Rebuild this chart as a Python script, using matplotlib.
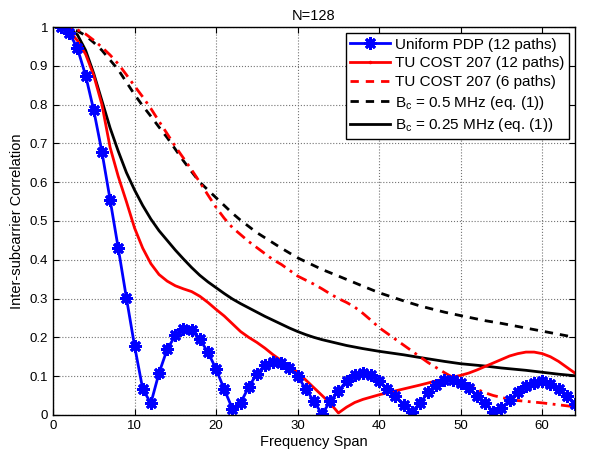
import matplotlib
matplotlib.use('Agg')
import matplotlib.pyplot as plt
from matplotlib.lines import Line2D

plt.rcParams['font.family'] = ['Liberation Sans', 'DejaVu Sans']
plt.rcParams['mathtext.fontset'] = 'custom'
plt.rcParams['mathtext.rm'] = 'Liberation Sans'

# Uniform PDP (12 paths), one point per frequency span 1..64
uni_x = list(range(1, 65))
uni_y = [1.0, 0.985, 0.945, 0.875, 0.785, 0.678, 0.555, 0.43, 0.302, 0.178,
         0.067, 0.03, 0.108, 0.169, 0.205, 0.222, 0.218, 0.195, 0.162, 0.118,
         0.066, 0.016, 0.031, 0.072, 0.106, 0.128, 0.136, 0.135, 0.122, 0.1,
         0.067, 0.035, 0.002, 0.035, 0.062, 0.087, 0.104, 0.108, 0.102, 0.087,
         0.068, 0.048, 0.025, 0.008, 0.03, 0.058, 0.078, 0.09, 0.09, 0.083,
         0.07, 0.048, 0.03, 0.008, 0.017, 0.038, 0.06, 0.075, 0.083, 0.087,
         0.08, 0.067, 0.048, 0.027]

# TU COST 207 (12 paths)
tu12_x = [1, 2, 3, 4, 5, 6, 7, 8, 9, 10, 11, 12, 13, 14, 15, 16, 17, 18, 19, 20,
          21, 22, 23, 24, 25, 26, 27, 28, 29, 30, 31, 32, 33, 34, 35, 36, 37, 38,
          39, 40, 42, 45, 48, 50, 51, 52, 53, 54, 55, 56, 57, 58, 59, 60, 61, 62,
          63, 64]
tu12_y = [1.0, 0.99, 0.965, 0.93, 0.875, 0.8, 0.69, 0.615, 0.55, 0.482, 0.43,
          0.39, 0.362, 0.345, 0.333, 0.325, 0.318, 0.306, 0.29, 0.272, 0.255,
          0.235, 0.215, 0.2, 0.187, 0.172, 0.155, 0.14, 0.125, 0.11, 0.09, 0.07,
          0.05, 0.03, 0.005, 0.02, 0.032, 0.04, 0.046, 0.052, 0.062, 0.077,
          0.093, 0.102, 0.108, 0.116, 0.125, 0.134, 0.143, 0.152, 0.158, 0.162,
          0.162, 0.158, 0.15, 0.138, 0.123, 0.108]

# TU COST 207 (6 paths)
tu6_x = [1, 2, 3, 4, 5, 6, 7, 8, 9, 10, 11, 12, 13, 14, 15, 16, 17, 18, 19, 20,
         21, 22, 24, 27, 28, 30, 32, 33, 34, 35, 36, 37, 38, 39, 40, 41, 42, 43,
         44, 45, 46, 47, 48, 49, 50, 51, 52, 53, 54, 55, 56, 57, 58, 60, 62, 64]
tu6_y = [1.0, 0.998, 0.993, 0.982, 0.966, 0.948, 0.928, 0.905, 0.877, 0.848,
         0.82, 0.79, 0.757, 0.725, 0.692, 0.662, 0.632, 0.6, 0.567, 0.535,
         0.507, 0.483, 0.447, 0.4, 0.388, 0.358, 0.337, 0.325, 0.312, 0.3, 0.29,
         0.278, 0.262, 0.244, 0.225, 0.21, 0.195, 0.18, 0.165, 0.15, 0.135,
         0.122, 0.109, 0.097, 0.087, 0.076, 0.066, 0.057, 0.05, 0.045, 0.04,
         0.037, 0.035, 0.031, 0.026, 0.021]

# Bc = 0.5 MHz (eq. (1))
bc05_x = [1, 2, 3, 4, 5, 6, 7, 8, 9, 10, 11, 12, 13, 14, 15, 16, 17, 18, 20, 22,
          23, 25, 28, 30, 33, 35, 38, 40, 43, 45, 48, 50, 53, 55, 58, 60, 62, 64]
bc05_y = [1.0, 0.997, 0.99, 0.978, 0.96, 0.94, 0.915, 0.89, 0.858, 0.826,
          0.797, 0.77, 0.742, 0.715, 0.685, 0.655, 0.627, 0.6, 0.56, 0.52, 0.502,
          0.47, 0.43, 0.405, 0.375, 0.358, 0.332, 0.315, 0.294, 0.281, 0.265,
          0.256, 0.243, 0.236, 0.224, 0.216, 0.208, 0.2]

# Bc = 0.25 MHz (eq. (1))
bc025_x = [1, 2, 3, 4, 5, 6, 7, 8, 9, 10, 11, 12, 13, 14, 15, 16, 17, 18, 19,
           20, 21, 22, 23, 24, 25, 26, 27, 28, 29, 30, 31, 32, 33, 34, 35, 36,
           37, 38, 40, 43, 45, 48, 50, 53, 55, 58, 60, 62, 64]
bc025_y = [1.0, 0.995, 0.98, 0.94, 0.88, 0.81, 0.74, 0.68, 0.625, 0.58, 0.54,
           0.505, 0.475, 0.45, 0.425, 0.402, 0.38, 0.36, 0.343, 0.328, 0.313,
           0.299, 0.287, 0.276, 0.265, 0.254, 0.244, 0.234, 0.224, 0.215,
           0.207, 0.2, 0.194, 0.189, 0.184, 0.179, 0.175, 0.171, 0.164, 0.155,
           0.148, 0.138, 0.132, 0.126, 0.121, 0.115, 0.11, 0.105, 0.101]

labels = ['Uniform PDP (12 paths)', 'TU COST 207 (12 paths)',
          'TU COST 207 (6 paths)', r'B$_\mathregular{c}$ = 0.5 MHz (eq. (1))',
          r'B$_\mathregular{c}$ = 0.25 MHz (eq. (1))']

fig = plt.figure(figsize=(5.89, 4.51), dpi=100)
ax = fig.add_axes([0.09, 0.08, 0.886, 0.86])

asterisk = (8, 2, 0)
ax.plot(bc05_x, bc05_y, color='k', lw=2, ls=(0, (3, 2.5)))
ax.plot(bc025_x, bc025_y, color='k', lw=2)
ax.plot(tu6_x, tu6_y, color='#ff0000', lw=2, ls=(0, (4, 2, 1, 2)))
ax.plot(tu12_x, tu12_y, color='#ff0000', lw=2)
ax.plot(uni_x, uni_y, color='#0000ff', lw=2, marker=asterisk, ms=9, mew=2)

ax.set_xlim(0, 64)
ax.set_ylim(0, 1)
ax.set_xticks(range(0, 61, 10))
ax.set_yticks([i / 10 for i in range(11)])
ax.set_yticklabels(['0', '0.1', '0.2', '0.3', '0.4', '0.5', '0.6', '0.7', '0.8', '0.9', '1'])
ax.tick_params(direction='in', top=True, right=True, labelsize=9.5, length=4)
ax.grid(True, ls=':', color='0.45', lw=0.8)
for s in ax.spines.values():
    s.set_linewidth(1)

ax.set_xlabel('Frequency Span', fontsize=10.5, labelpad=2)
ax.set_ylabel('Inter-subcarrier Correlation', fontsize=10.5, labelpad=4)
ax.set_title('N=128', fontsize=10.5, pad=5)

handles = [
    Line2D([], [], color='#0000ff', lw=2, marker=asterisk, ms=9, mew=2, markevery=[1]),
    Line2D([], [], color='#ff0000', lw=2, marker='.', ms=3, markevery=[1]),
    Line2D([], [], color='#ff0000', lw=2, ls=(0, (3, 2.5))),
    Line2D([], [], color='k', lw=2, ls=(0, (3, 2.5))),
    Line2D([], [], color='k', lw=2),
]
leg = ax.legend(handles, labels, loc='upper right', fontsize=11, handlelength=2.6,
                handletextpad=0.3, labelspacing=0.3, borderpad=0.3,
                fancybox=False, framealpha=1, edgecolor='k',
                borderaxespad=0.4)
leg.get_frame().set_linewidth(1)

plt.savefig('out.png', dpi=100)
